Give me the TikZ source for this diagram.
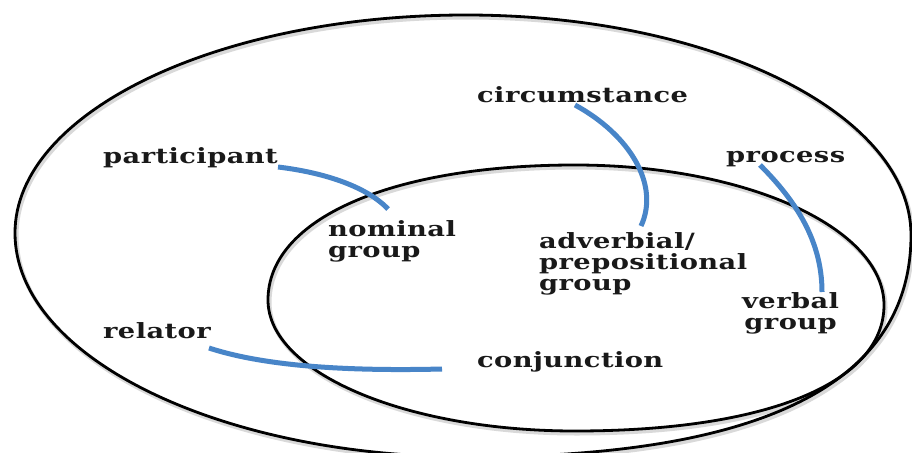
\documentclass[tikz,border=0pt]{standalone}
\usepackage{fontspec}
\setmainfont{DejaVu Serif}
\newfontfamily\lblfont{DejaVu Serif}[FakeStretch=1.3, LetterSpace=2]
\definecolor{linkblue}{RGB}{72,133,200}
\begin{document}
\begin{tikzpicture}[x=1pt,y=-1pt,
  lbl/.style={font=\lblfont\bfseries\fontsize{21}{21}\selectfont, inner sep=0pt, anchor=base west, align=left, text=black!90},
  lblc/.style={lbl, align=center},
  ring/.style={line width=2.8pt, black},
  ringshadow/.style={line width=4pt, black!15},
  link/.style={line width=5pt, linkblue}]
\useasboundingbox (0,0) rectangle (912,452);
\fill[white] (0,0) rectangle (912,452);
\def\outerpath{(15,233) .. controls (15,112.6) and (216.9,15) .. (466,15) .. controls (711.8,15) and (911,113.5) .. (911,235) .. controls (911,383) and (763,457) .. (470,457) .. controls (218.7,457) and (15,356.7) .. cycle}
\def\innerpath{(268,300) .. controls (268,219) and (390.8,165) .. (575,165) .. controls (745.7,165) and (884,227.7) .. (884,305) .. controls (884,383.1) and (766.6,431) .. (575,431) .. controls (405.4,431) and (268,372.4) .. cycle}
\begin{scope}
\clip (0,0) rectangle (912,452);
\draw[ringshadow, shift={(1.5,2.5)}] \outerpath;
\draw[ringshadow, shift={(1.5,2.5)}] \innerpath;
\draw[ring] \outerpath;
\draw[ring] \innerpath;
\end{scope}
% labels
\node[lbl] (participant) at (103,163) {participant};
\node[lbl] (circumstance) at (477,102) {circumstance};
\node[lbl] (process) at (726,162) {process};
\node[lbl] (nominal) at (328,257.5) {nominal\\group};
\node[lbl] (adverbial) at (539,290) {adverbial/\\prepositional\\group};
\node[lblc] (verbal) at (742,329) {verbal\\group};
\node[lbl] (relator) at (103,338) {relator};
\node[lbl] (conjunction) at (477,367) {conjunction};
% link end points
\coordinate (pa1) at (278,167);
\coordinate (pa2) at (388,209);
\coordinate (ci1) at (575,105);
\coordinate (ci2) at (641,226);
\coordinate (pr1) at (760,165);
\coordinate (pr2) at (822,292);
\coordinate (re1) at (209,348);
\coordinate (re2) at (442,369);
% links
\draw[link] (pa1) .. controls (320,172) and (365,185) .. (pa2);
\draw[link] (ci1) .. controls (630,135) and (660,185) .. (ci2);
\draw[link] (pr1) .. controls (795,200) and (822,240) .. (pr2);
\draw[link] (re1) .. controls (270,368) and (360,371) .. (re2);
\end{tikzpicture}
\end{document}
